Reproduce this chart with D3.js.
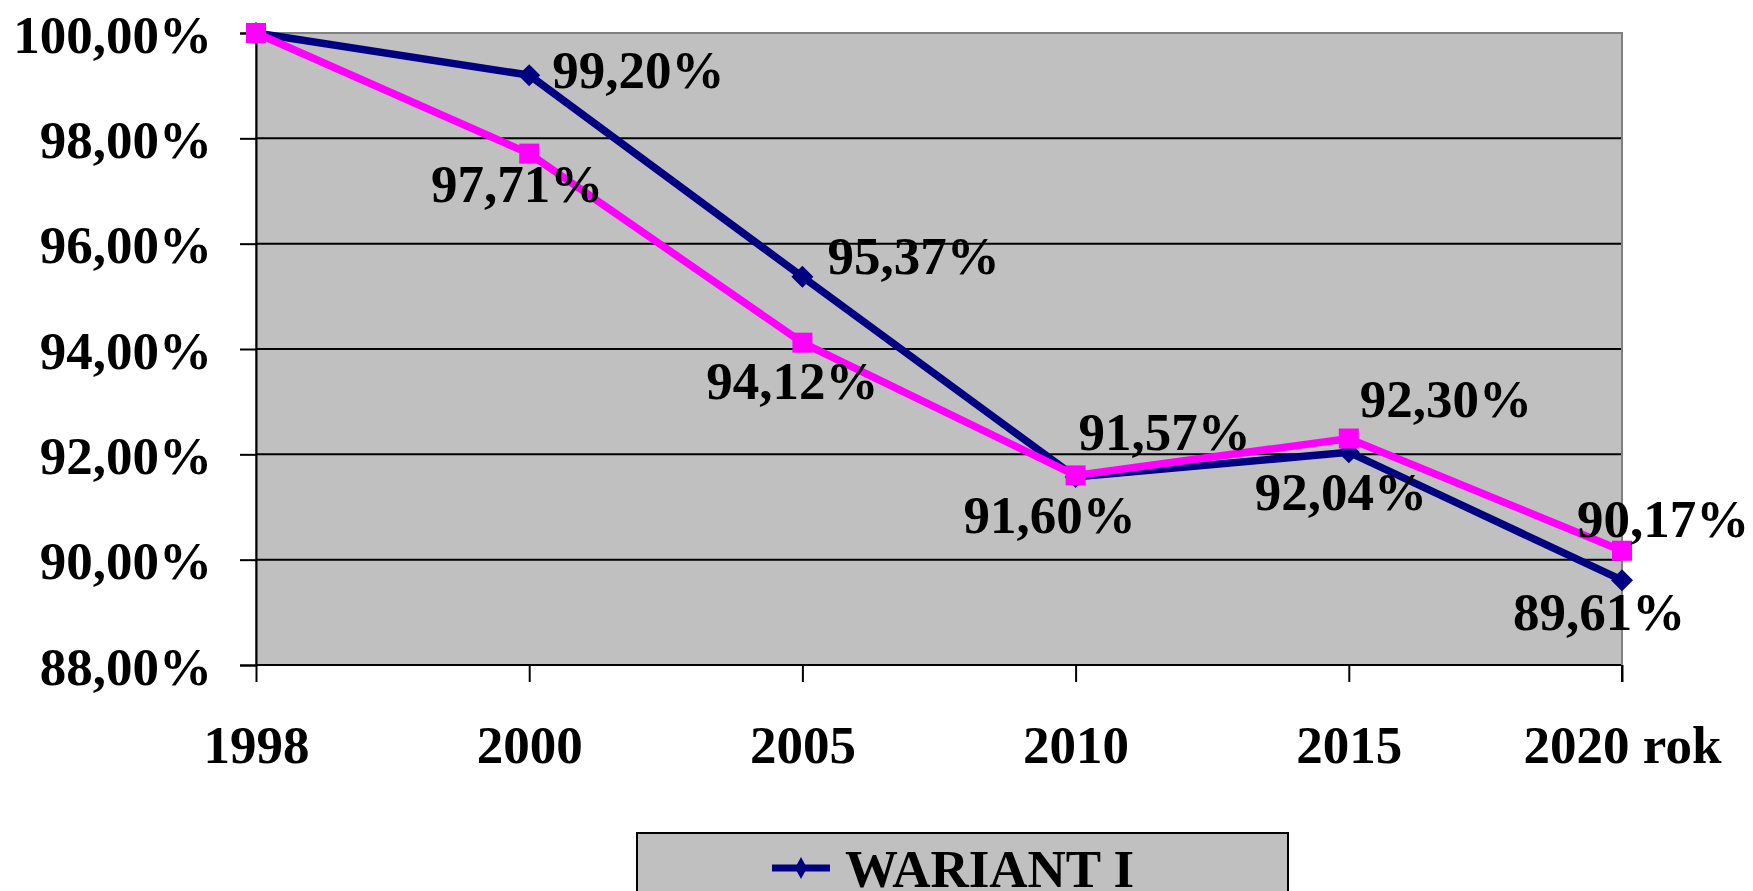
<!DOCTYPE html>
<html>
<head>
<meta charset="utf-8">
<script src="https://cdn.jsdelivr.net/npm/d3@7"></script>
<style>
  html, body { margin: 0; padding: 0; background: #ffffff; }
  svg { display: block; }
  text { font-family: "Liberation Serif", "Times New Roman", serif; font-weight: bold; fill: #000; }
</style>
</head>
<body>
<svg id="chart" width="1753" height="891"></svg>
<script>
// ---- data ----
const categories = ["1998", "2000", "2005", "2010", "2015", "2020 rok"];
const yTicks = [88, 90, 92, 94, 96, 98, 100];
const seriesNames = ["WARIANT I", "WARIANT II"];
const wariant1 = [100.00, 99.20, 95.37, 91.57, 92.04, 89.61];
const wariant2 = [100.00, 97.71, 94.12, 91.60, 92.30, 90.17];

// ---- styling / label placement (offsets from point, px) ----
const label1 = [null, {dx: 23, dy: 13, a: "start"}, {dx: 25, dy: -3, a: "start"}, {dx: 3, dy: -27, a: "start"}, {dx: -8, dy: 58, a: "middle"}, {dx: -23, dy: 50, a: "middle"}];
const label2 = [null, {dx: -12, dy: 48, a: "middle"}, {dx: -10, dy: 56, a: "middle"}, {dx: -26, dy: 58, a: "middle"}, {dx: 11, dy: -22, a: "start"}, {dx: -45, dy: -14, a: "start"}];

const fmt = v => v.toFixed(2).replace(".", ",") + "%";

const svg = d3.select("#chart");
const L = 256, R = 1622, T = 33, B = 665;

const x = d3.scalePoint().domain(categories).range([L, R]);
const y = d3.scaleLinear().domain([88, 100]).range([B, T]);

// plot background
svg.append("rect").attr("x", L).attr("y", T).attr("width", R - L).attr("height", B - T)
  .attr("fill", "#c0c0c0").attr("stroke", "#808080").attr("stroke-width", 2);

// gridlines
svg.append("g").selectAll("line").data(yTicks.filter(t => t < 100)).join("line")
  .attr("x1", L).attr("x2", R).attr("y1", d => y(d)).attr("y2", d => y(d))
  .attr("stroke", "#000").attr("stroke-width", 2);

// y axis
const yAxis = svg.append("g").attr("transform", `translate(${L},0)`)
  .call(d3.axisLeft(y).tickValues(yTicks).tickSize(16).tickPadding(28)
    .tickFormat(d => d.toFixed(2).replace(".", ",") + "%"));
yAxis.attr("font-family", null).attr("font-size", null);
yAxis.select(".domain").attr("stroke", "#000").attr("stroke-width", 2);
yAxis.selectAll(".tick line").attr("stroke", "#000").attr("stroke-width", 2);
yAxis.selectAll(".tick text").attr("font-size", 53).attr("dy", "0.36em");

// x axis
const xAxis = svg.append("g").attr("transform", `translate(0,${B})`)
  .call(d3.axisBottom(x).tickSize(17).tickPadding(43));
xAxis.attr("font-family", null).attr("font-size", null);
xAxis.select(".domain").attr("stroke", "#000").attr("stroke-width", 2).attr("d", `M${L},0H${R}`);
xAxis.selectAll(".tick line").attr("stroke", "#000").attr("stroke-width", 2);
xAxis.selectAll(".tick text").attr("font-size", 53);

// right border grey
svg.append("line").attr("x1", R).attr("x2", R).attr("y1", T).attr("y2", B)
  .attr("stroke", "#808080").attr("stroke-width", 2);
svg.append("line").attr("x1", R).attr("x2", R).attr("y1", B).attr("y2", B + 17)
  .attr("stroke", "#000").attr("stroke-width", 2);

const line = d3.line().x((d, i) => x(categories[i])).y(d => y(d));

// series 1 (navy, diamonds)
svg.append("path").datum(wariant1).attr("d", line)
  .attr("fill", "none").attr("stroke", "#000080").attr("stroke-width", 7.5).attr("stroke-linejoin", "miter");
svg.append("g").selectAll("path").data(wariant1).join("path")
  .attr("transform", (d, i) => `translate(${x(categories[i])},${y(d)})`)
  .attr("d", "M0,-11L11,0L0,11L-11,0Z").attr("fill", "#000080");

// series 2 (magenta, squares)
svg.append("path").datum(wariant2).attr("d", line)
  .attr("fill", "none").attr("stroke", "#ff00ff").attr("stroke-width", 7.5).attr("stroke-linejoin", "miter");
svg.append("g").selectAll("rect").data(wariant2).join("rect")
  .attr("x", (d, i) => x(categories[i]) - 10).attr("y", d => y(d) - 10)
  .attr("width", 20).attr("height", 20).attr("fill", "#ff00ff");

// data labels
function addLabels(vals, offs) {
  svg.append("g").selectAll("text").data(vals.map((v, i) => ({v, i}))).join("text")
    .filter(d => offs[d.i])
    .attr("x", d => x(categories[d.i]) + offs[d.i].dx)
    .attr("y", d => y(d.v) + offs[d.i].dy)
    .attr("text-anchor", d => offs[d.i].a)
    .attr("font-size", 53)
    .text(d => fmt(d.v));
}
addLabels(wariant1, label1);
addLabels(wariant2, label2);

// legend
const lg = svg.append("g");
lg.append("rect").attr("x", 637).attr("y", 833).attr("width", 651).attr("height", 90)
  .attr("fill", "#c0c0c0").attr("stroke", "#000").attr("stroke-width", 2);
lg.append("line").attr("x1", 772).attr("x2", 830).attr("y1", 868).attr("y2", 868)
  .attr("stroke", "#000080").attr("stroke-width", 7);
lg.append("path").attr("d", "M801,857L807,868L801,879L795,868Z").attr("fill", "#000080");
lg.append("text").attr("x", 845).attr("y", 887).attr("font-size", 53).text(seriesNames[0]);
</script>
</body>
</html>
